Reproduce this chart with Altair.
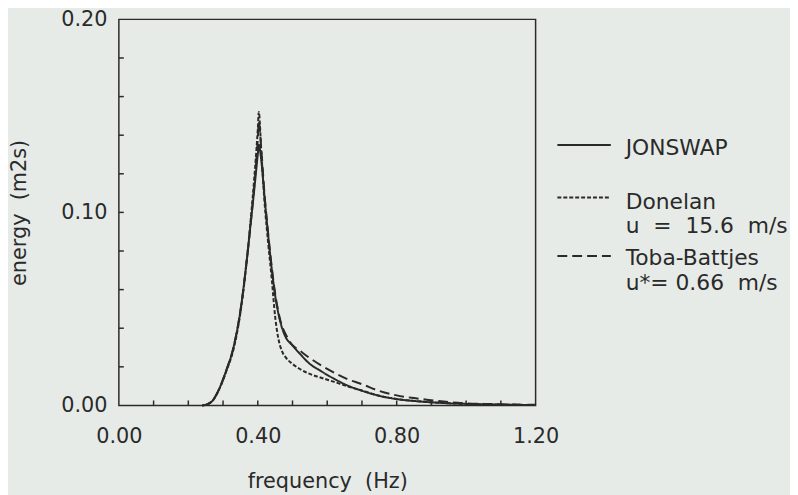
import altair as alt
import pandas as pd

# ---- data ----
freq = [0.24, 0.25, 0.27, 0.29, 0.31, 0.33, 0.35, 0.37, 0.38, 0.39, 0.40, 0.403,
        0.41, 0.42, 0.43, 0.44, 0.45, 0.46, 0.47, 0.48, 0.50, 0.52, 0.55, 0.58,
        0.62, 0.66, 0.70, 0.75, 0.80, 0.85, 0.90, 0.95, 1.00, 1.05, 1.10, 1.15, 1.20]
jonswap = [0.0, 0.0003, 0.0025, 0.0090, 0.0185, 0.030, 0.049, 0.078, 0.095, 0.112, 0.130, 0.135,
           0.127, 0.107, 0.088, 0.071, 0.057, 0.047, 0.040, 0.0355, 0.031, 0.027, 0.0215, 0.0180,
           0.0138, 0.0102, 0.0076, 0.0050, 0.0033, 0.0023, 0.0016, 0.0011, 0.0008, 0.0006, 0.0004, 0.0003, 0.0002]
donelan = [0.0, 0.0003, 0.0025, 0.0088, 0.018, 0.029, 0.048, 0.078, 0.097, 0.118, 0.143, 0.152,
           0.132, 0.104, 0.084, 0.066, 0.046, 0.034, 0.028, 0.025, 0.0215, 0.019, 0.0163, 0.0145,
           0.0122, 0.0098, 0.0077, 0.0050, 0.0033, 0.0023, 0.0016, 0.0011, 0.0008, 0.0006, 0.0004, 0.0003, 0.0002]
toba = [0.0, 0.0003, 0.0025, 0.0090, 0.0185, 0.030, 0.049, 0.078, 0.095, 0.114, 0.138, 0.147,
        0.133, 0.108, 0.089, 0.072, 0.058, 0.048, 0.041, 0.037, 0.0312, 0.0285, 0.0245, 0.0210,
        0.0170, 0.0135, 0.0110, 0.0075, 0.0052, 0.0038, 0.0027, 0.0017, 0.0011, 0.0008, 0.0006, 0.0004, 0.0003]

series_names = ["JONSWAP", "Donelan", "Toba-Battjes"]
series_dash = [[1, 0], [4, 2], [10, 5]]
legend_extra = ["u\u00a0\u00a0=\u00a0\u00a015.6\u00a0\u00a0m/s", "u*=\u00a00.66\u00a0\u00a0m/s"]

x_labels = [0.0, 0.4, 0.8, 1.2]
y_labels = [0.0, 0.1, 0.2]
x_minor = [0.1, 0.2, 0.3, 0.4, 0.5, 0.6, 0.7, 0.8, 0.9, 1.0, 1.1]
y_minor = [0.02, 0.04, 0.06, 0.08, 0.10, 0.12, 0.14, 0.16, 0.18]

W, H = 421, 390
INK = "#2a2a2a"
FONT = "DejaVu Sans"
FS = 21
LFS = 22

rows = []
for name, vals in zip(series_names, [jonswap, donelan, toba]):
    for f, e in zip(freq, vals):
        rows.append({"f": f, "E": e, "series": name})
df = pd.DataFrame(rows)

xscale = alt.Scale(domain=[0, 1.2], nice=False, zero=False)
yscale = alt.Scale(domain=[0, 0.2], nice=False)

dash_scale = alt.Scale(domain=series_names, range=series_dash)

lines = alt.Chart(df).mark_line(color=INK, strokeWidth=2, interpolate="monotone").encode(
    x=alt.X("f:Q", scale=xscale,
            axis=alt.Axis(values=x_labels, format=".2f", ticks=False, domain=False, grid=False,
                          labelFlush=False, labelOverlap=False,
                          labelFont=FONT, labelFontSize=FS, labelColor=INK, labelPadding=20,
                          title="frequency\u00a0\u00a0(Hz)", titleFont=FONT, titleFontSize=FS,
                          titleFontWeight="normal", titleColor=INK, titlePadding=25)),
    y=alt.Y("E:Q", scale=yscale,
            axis=alt.Axis(values=y_labels, format=".2f", ticks=False, domain=False, grid=False,
                          labelFlush=False, labelOverlap=False,
                          labelFont=FONT, labelFontSize=FS, labelColor=INK, labelPadding=12,
                          title="energy\u00a0\u00a0(m2s)", titleFont=FONT, titleFontSize=FS,
                          titleFontWeight="normal", titleColor=INK, titlePadding=32)),
    strokeDash=alt.StrokeDash("series:N", scale=dash_scale, legend=None),
    detail="series:N",
)

xt = alt.Chart(pd.DataFrame({"v": x_minor})).mark_rule(color=INK, strokeWidth=1.5).encode(
    x=alt.X("v:Q", scale=xscale), y=alt.value(H), y2=alt.value(H - 5))
yt = alt.Chart(pd.DataFrame({"v": y_minor})).mark_rule(color=INK, strokeWidth=1.5).encode(
    y=alt.Y("v:Q", scale=yscale), x=alt.value(0), x2=alt.value(5))

# legend drawn by hand
leg_df = pd.DataFrame({"series": series_names, "ypos": [127, 180, 239]})
leg_lines = alt.Chart(leg_df).mark_rule(color=INK, strokeWidth=2).encode(
    x=alt.value(443), x2=alt.value(497), y=alt.Y("ypos:Q", scale=None),
    strokeDash=alt.StrokeDash("series:N", scale=dash_scale, legend=None))
leg_text = alt.Chart(pd.DataFrame({"t": series_names + legend_extra,
                                   "ypos": [130, 185, 241, 209, 266]})).mark_text(
    align="left", baseline="middle", font=FONT, fontSize=LFS, color=INK).encode(
    x=alt.value(512), y=alt.Y("ypos:Q", scale=None), text="t:N")

chart = alt.layer(lines, xt, yt, leg_lines, leg_text).properties(
    width=W, height=H,
    autosize=alt.AutoSizeParams(type="none"),
    padding={"left": 112, "top": 9, "right": 257, "bottom": 88},
    background="#e7ebe8",
).configure_view(stroke=INK, strokeWidth=1.5)

chart.save("out.html", embed_options={"renderer": "svg", "actions": False})
